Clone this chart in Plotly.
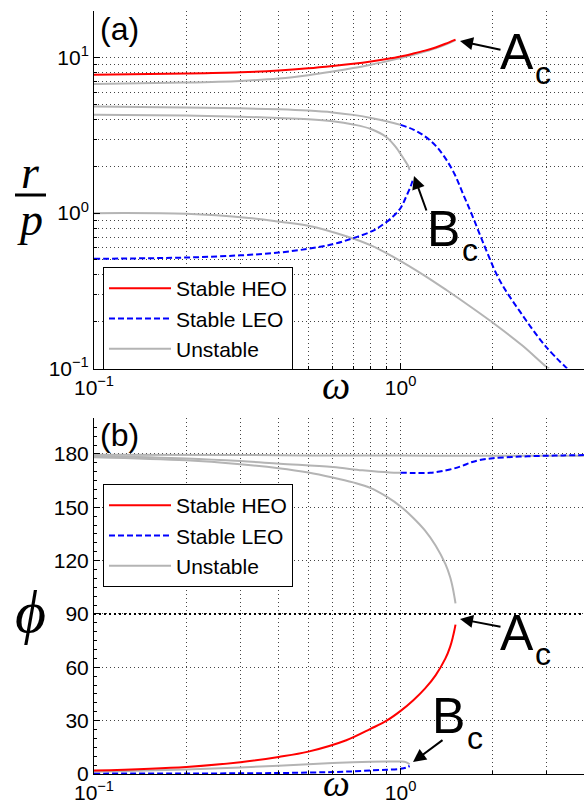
import plotly.graph_objects as go

# ---------------- data: panel (a) amplitude r/p ----------------
w_heo_a = [0.1, 0.2, 0.3, 0.4, 0.5, 0.6, 0.7, 0.8, 0.9, 1.0, 1.1, 1.2, 1.3, 1.4, 1.51]
rp_heo = [7.77, 7.92, 8.07, 8.28, 8.55, 8.85, 9.15, 9.47, 9.82, 10.2, 10.65, 11.12, 11.65, 12.3, 13.1]

w_uns1_a = [0.1, 0.2, 0.3, 0.4, 0.5, 0.6, 0.7, 0.8, 0.9, 1.0, 1.1, 1.2, 1.3, 1.4, 1.51]
rp_uns1 = [6.77, 6.93, 7.1, 7.35, 7.72, 8.15, 8.58, 9.03, 9.48, 9.95, 10.45, 10.97, 11.52, 12.15, 13.0]

w_uns2_a = [0.1, 0.2, 0.3, 0.4, 0.5, 0.6, 0.7, 0.8, 0.9, 1.0]
rp_uns2 = [4.85, 4.79, 4.73, 4.66, 4.57, 4.45, 4.29, 4.10, 3.90, 3.70]

w_leo1_a = [1.0, 1.1, 1.2, 1.3, 1.4, 1.5, 1.6, 1.7, 1.88, 2.1, 2.47, 2.98, 3.49]
rp_leo1 = [3.70, 3.45, 3.12, 2.72, 2.25, 1.78, 1.32, 1.0, 0.61, 0.372, 0.227, 0.138, 0.1]

w_uns3_a = [0.1, 0.2, 0.3, 0.4, 0.5, 0.6, 0.7, 0.8, 0.9, 0.97, 1.0, 1.04, 1.06, 1.07]
rp_uns3 = [4.30, 4.25, 4.18, 4.10, 4.02, 3.90, 3.72, 3.48, 3.08, 2.62, 2.40, 2.13, 2.0, 1.9]

w_leo2_a = [0.1, 0.2, 0.3, 0.4, 0.5, 0.6, 0.7, 0.8, 0.857, 0.944, 1.0, 1.043, 1.08, 1.10]
rp_leo2 = [0.508, 0.518, 0.535, 0.557, 0.59, 0.63, 0.69, 0.76, 0.82, 0.95, 1.08, 1.28, 1.5, 1.68]

w_uns4_a = [0.1, 0.2, 0.32, 0.404, 0.5, 0.665, 0.8, 0.968, 1.2, 1.41, 1.7, 2.05, 2.5, 2.98, 3.05]
rp_uns4 = [1.0, 0.99, 0.93, 0.88, 0.83, 0.71, 0.62, 0.51, 0.395, 0.32, 0.248, 0.19, 0.14, 0.103, 0.1]

# ---------------- data: panel (b) phase phi ----------------
w_heo_b = [0.1, 0.2, 0.3, 0.4, 0.5, 0.665, 0.8, 0.9, 1.0, 1.1, 1.2, 1.3, 1.4, 1.45, 1.48, 1.5, 1.51]
phi_heo = [1.9, 4.0, 6.6, 9.6, 12.6, 19.0, 25.5, 30.0, 35.5, 41.5, 48.0, 55.5, 65.0, 71.5, 77.0, 81.5, 84.0]

w_uns1_b = [0.1, 0.2, 0.3, 0.4, 0.5, 0.6, 0.7, 0.8, 0.9, 1.0, 1.1, 1.2, 1.3, 1.4, 1.45, 1.48, 1.5, 1.51]
phi_uns1 = [178.2, 176.4, 174.2, 172.0, 169.6, 166.8, 164.0, 160.8, 156.0, 150.5, 144.0, 137.0, 128.5, 118.0, 110.8, 104.5, 99.0, 96.0]

w_uns2_b = [0.1, 0.2, 0.3, 0.404, 0.6, 0.75, 0.92, 1.0]
phi_uns2 = [178.9, 177.5, 176.0, 174.5, 172.6, 170.8, 169.6, 169.5]

w_leo1_b = [1.0, 1.1, 1.25, 1.41, 1.57, 1.7, 1.81, 2.0, 2.3, 2.6, 3.0, 3.4, 3.96]
phi_leo1 = [169.5, 169.3, 169.4, 170.8, 173.0, 175.3, 176.6, 177.6, 178.3, 178.7, 179.0, 179.2, 179.4]

w_uns4_b = [0.1, 0.3, 0.5, 1.0, 2.0, 3.0, 3.96]
phi_uns4 = [179.6, 179.4, 179.2, 179.1, 179.0, 179.0, 179.0]

w_uns3_b = [0.1, 0.2, 0.3, 0.4, 0.5, 0.6, 0.7, 0.8, 0.9, 1.0, 1.04, 1.07]
phi_uns3 = [1.3, 2.6, 3.7, 4.7, 5.5, 6.2, 6.6, 6.9, 7.0, 7.0, 6.7, 5.5]

w_leo2_b = [0.1, 0.2, 0.3, 0.4, 0.5, 0.6, 0.7, 0.8, 0.9, 1.0, 1.04, 1.07]
phi_leo2 = [0.2, 0.3, 0.4, 0.55, 0.8, 1.1, 1.5, 2.0, 2.4, 2.9, 3.5, 4.5]

w_ref_line = [0.1, 3.96]
phi_ref_line = [90, 90]

x_tickvals = [0.1, 1]
x_ticktext = ["10<sup>−1</sup>", "10<sup>0</sup>"]
x_minor = [0.2, 0.3, 0.4, 0.5, 0.6, 0.7, 0.8, 0.9, 2, 3, 4]
ya_tickvals = [0.1, 1, 10]
ya_ticktext = ["10<sup>−1</sup>", "10<sup>0</sup>", "10<sup>1</sup>"]
ya_minor = [0.2, 0.3, 0.4, 0.5, 0.6, 0.7, 0.8, 0.9, 2, 3, 4, 5, 6, 7, 8, 9, 20]
yb_tickvals = [0, 30, 60, 90, 120, 150, 180]

names = ["Stable HEO", "Stable LEO", "Unstable"]

# ---------------- styling ----------------
RED = "#ff0000"
BLUE = "#0000ff"
GRAY = "#b4b4b4"
FONT = "Liberation Sans, Arial, sans-serif"
SERIF = "Liberation Serif, DejaVu Serif, serif"
W, H = 584, 807
ML, MR, MT, MB = 94, 0, 11, 33
PW, PH = W - ML - MR, H - MT - MB


def px(x):
    return (x - ML) / PW


def py(y):
    return (H - MB - y) / PH


fig = go.Figure()


def add(xs, ys, kind, xa, ya, legend, show):
    color = {"heo": RED, "leo": BLUE, "uns": GRAY}[kind]
    dash = "6px,3px" if kind == "leo" else "solid"
    name = {"heo": names[0], "leo": names[1], "uns": names[2]}[kind]
    rank = {"heo": 1, "leo": 2, "uns": 3}[kind]
    fig.add_trace(go.Scatter(
        x=xs, y=ys, mode="lines", name=name, xaxis=xa, yaxis=ya,
        line=dict(color=color, width=2, dash=dash, shape="spline", smoothing=1.0),
        legend=legend, showlegend=show, legendrank=rank, hoverinfo="skip"))


# panel (a) - unstable first, stable on top
add(w_uns1_a, rp_uns1, "uns", "x", "y", "legend", True)
add(w_uns2_a, rp_uns2, "uns", "x", "y", "legend", False)
add(w_uns3_a, rp_uns3, "uns", "x", "y", "legend", False)
add(w_uns4_a, rp_uns4, "uns", "x", "y", "legend", False)
add(w_leo1_a, rp_leo1, "leo", "x", "y", "legend", True)
add(w_leo2_a, rp_leo2, "leo", "x", "y", "legend", False)
add(w_heo_a, rp_heo, "heo", "x", "y", "legend", True)

# panel (b)
fig.add_trace(go.Scatter(x=w_ref_line, y=phi_ref_line, mode="lines", xaxis="x2", yaxis="y2",
                         line=dict(color="black", width=2, dash="2px,3px"),
                         showlegend=False, hoverinfo="skip"))
add(w_uns4_b, phi_uns4, "uns", "x2", "y2", "legend2", True)
add(w_uns2_b, phi_uns2, "uns", "x2", "y2", "legend2", False)
add(w_uns1_b, phi_uns1, "uns", "x2", "y2", "legend2", False)
add(w_uns3_b, phi_uns3, "uns", "x2", "y2", "legend2", False)
add(w_leo1_b, phi_leo1, "leo", "x2", "y2", "legend2", True)
add(w_leo2_b, phi_leo2, "leo", "x2", "y2", "legend2", False)
add(w_heo_b, phi_heo, "heo", "x2", "y2", "legend2", True)

GRID = dict(showgrid=True, gridcolor="#444444", gridwidth=1, griddash="1px,3px")
tickfont = dict(family=FONT, size=21, color="black")

top_dom = [py(368.5), 1.0]
bot_dom = [0.0, py(418.4)]

xcommon = dict(type="log", range=[-1, 0.598], tickmode="array", tickvals=x_tickvals,
               ticktext=x_ticktext, ticks="inside", ticklen=6, tickcolor="black",
               showline=True, linecolor="black", linewidth=1, mirror=False,
               tickfont=tickfont, zeroline=False,
               minor=dict(tickmode="array", tickvals=x_minor, ticks="inside", ticklen=3,
                          tickcolor="black", showgrid=True, gridcolor="#444444",
                          griddash="1px,3px", gridwidth=1),
               **GRID)

legend_common = dict(xanchor="left", yanchor="top", bgcolor="white", bordercolor="black",
                     borderwidth=1, font=dict(family=FONT, size=21, color="black"),
                     itemwidth=62, tracegroupgap=0)

fig.update_layout(
    width=W, height=H,
    margin=dict(l=ML, r=MR, t=MT, b=MB, pad=0),
    paper_bgcolor="white", plot_bgcolor="white",
    xaxis=dict(domain=[0, 1], anchor="y", **xcommon),
    yaxis=dict(domain=top_dom, anchor="x", type="log", range=[-1, 1.30103],
               tickmode="array", tickvals=ya_tickvals, ticktext=ya_ticktext,
               ticks="inside", ticklen=6, tickcolor="black", showline=True,
               linecolor="black", linewidth=1, tickfont=tickfont, zeroline=False,
               minor=dict(tickmode="array", tickvals=ya_minor, ticks="inside", ticklen=3,
                          tickcolor="black", showgrid=True, gridcolor="#444444",
                          griddash="1px,3px", gridwidth=1),
               **GRID),
    xaxis2=dict(domain=[0, 1], anchor="y2", **xcommon),
    yaxis2=dict(domain=bot_dom, anchor="x2", range=[0, 200], tickmode="array",
                tickvals=yb_tickvals, ticks="inside", ticklen=6, tickcolor="black",
                showline=True, linecolor="black", linewidth=1, tickfont=tickfont,
                zeroline=False,
                minor=dict(dtick=5, ticks="inside", ticklen=3, tickcolor="black",
                           showgrid=False),
                **GRID),
    legend=dict(x=px(103), y=py(267), **legend_common),
    legend2=dict(x=px(103), y=py(484), **legend_common),
    showlegend=True,
)

ann = []


def text(x, y, s, size, family=FONT, italic=False, yanchor="middle"):
    if italic:
        s = "<i>" + s + "</i>"
    ann.append(dict(x=px(x), y=py(y), xref="paper", yref="paper", text=s, showarrow=False,
                    xanchor="center", yanchor=yanchor,
                    font=dict(family=family, size=size, color="black")))


def arrow(tipx, tipy, tailx, taily):
    ann.append(dict(x=px(tipx), y=py(tipy), xref="paper", yref="paper", text="",
                    showarrow=True, ax=tailx - tipx, ay=taily - tipy, arrowhead=2,
                    arrowsize=1.3, arrowwidth=2, arrowcolor="black", standoff=0))


# panel labels
text(119, 29, "(a)", 32)
text(119, 435, "(b)", 32)
# axis labels
text(336, 385, "ω", 40, SERIF, True)
text(336, 806, "ω", 38, SERIF, True, yanchor="bottom")
text(30, 200, "r", 46, SERIF, True, yanchor="bottom")
text(30, 192, "p", 46, SERIF, True, yanchor="top")
text(30, 612, "ϕ", 60, SERIF, True)
# critical points
text(517, 52, "A", 50)
text(543, 73, "c", 32)
arrow(460, 41, 502, 50)
text(443, 229, "B", 50)
text(470, 250, "c", 32)
arrow(414, 176, 427, 212)
text(517, 633, "A", 50)
text(543, 654, "c", 32)
arrow(460, 619, 502, 627)
text(448, 716, "B", 50)
text(475, 738, "c", 32)
arrow(413, 762, 444, 739)

fig.update_layout(annotations=ann)
fig.add_shape(type="line", xref="paper", yref="paper", x0=px(15), x1=px(46),
              y0=py(195), y1=py(195), line=dict(color="black", width=3))

fig.write_html("out.html", config={"displayModeBar": False},
               post_script="document.body.style.margin='0px';document.body.style.overflow='hidden';")
